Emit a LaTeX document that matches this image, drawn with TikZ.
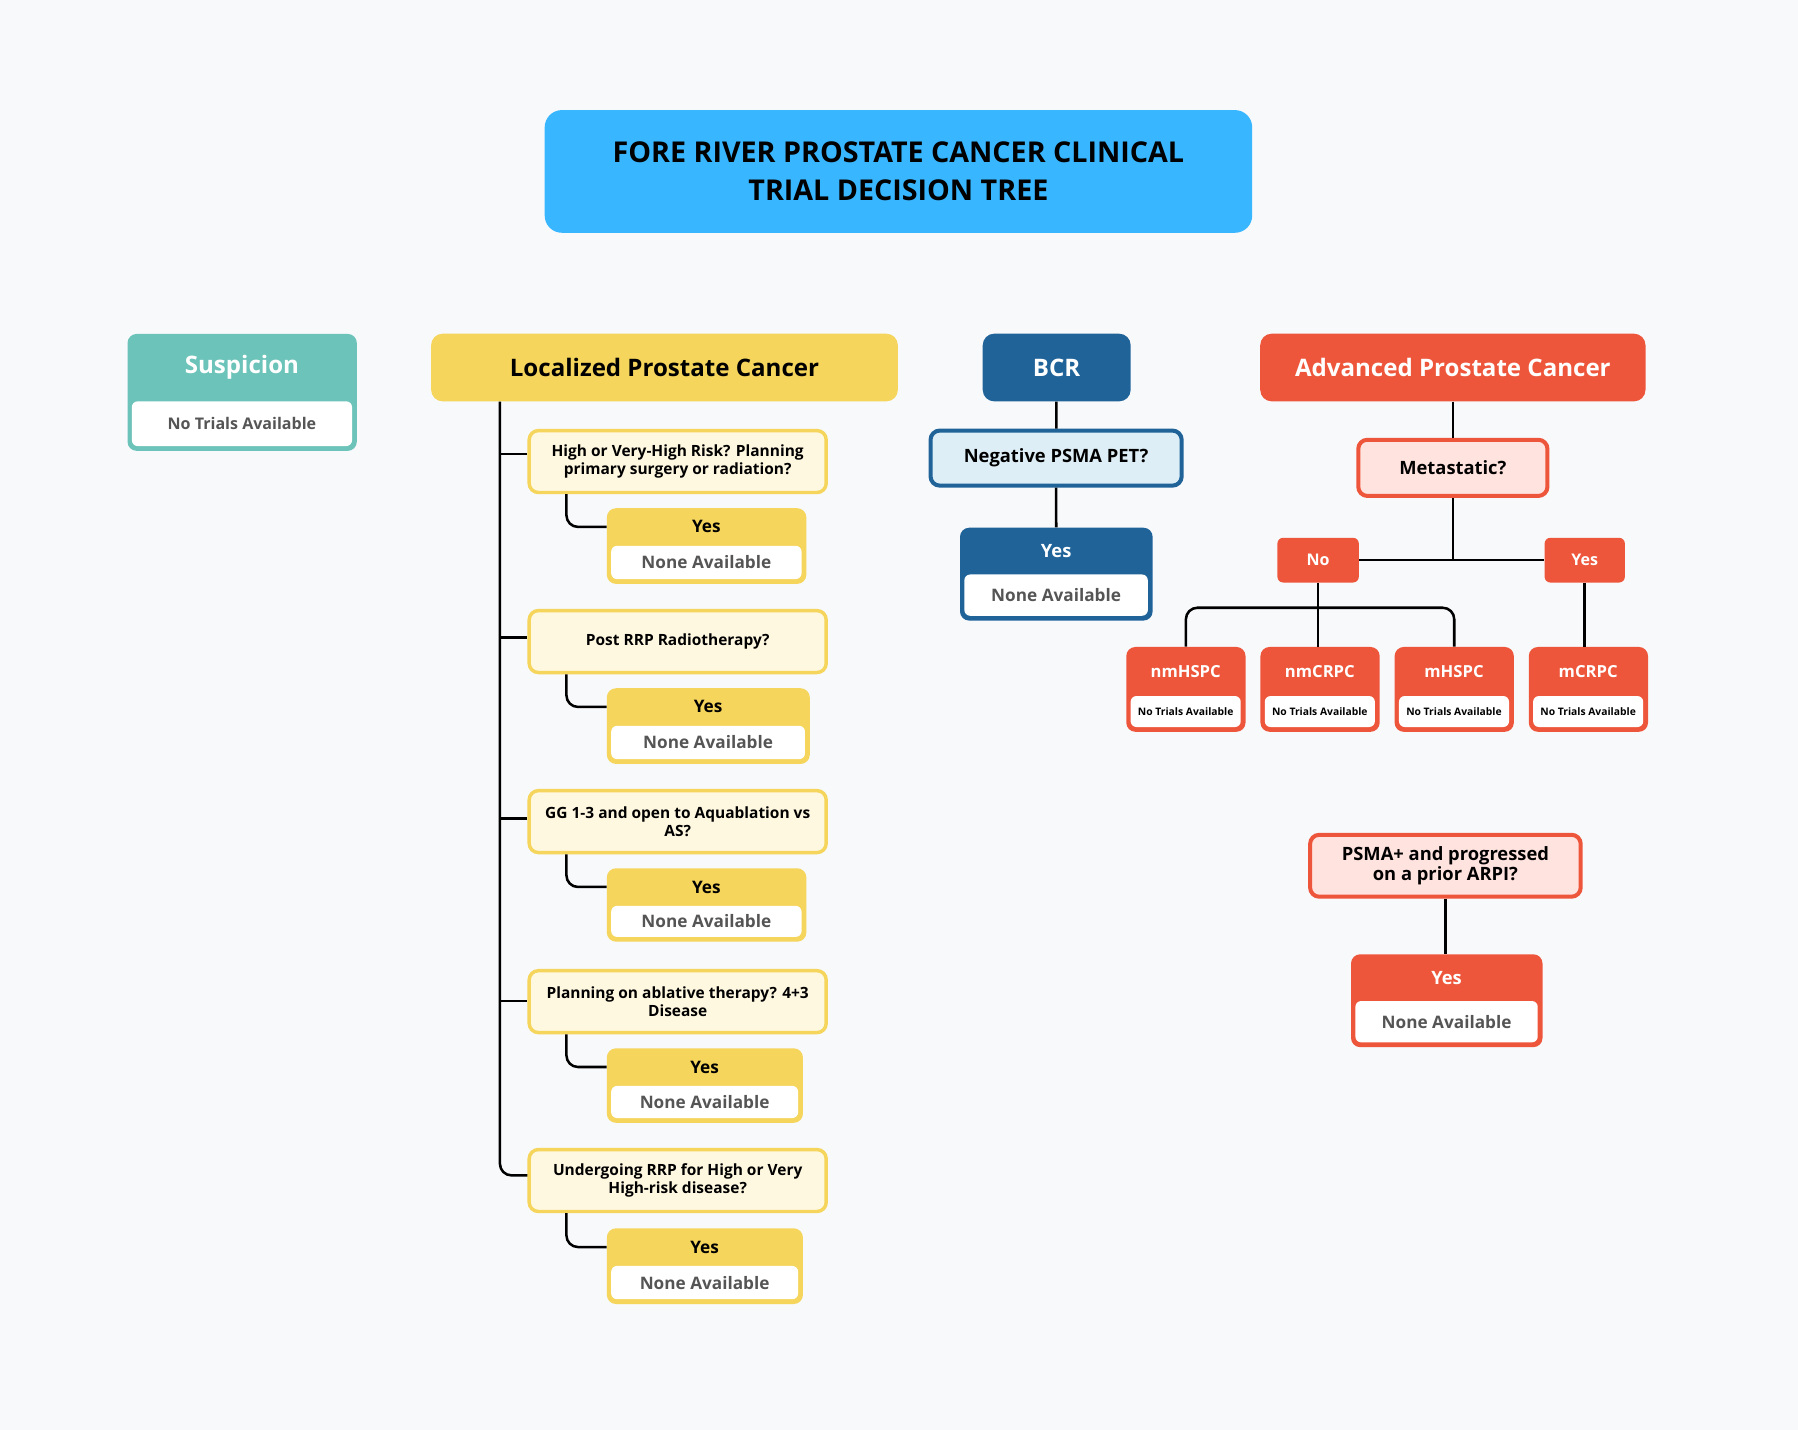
\documentclass[tikz,border=0pt]{standalone}
\usepackage{fontspec}
\setmainfont{Open Sans}
\begin{document}
\definecolor{bg}{HTML}{F8F9FB}
\definecolor{tblue}{HTML}{38B6FF}
\definecolor{teal}{HTML}{6CC3B9}
\definecolor{yel}{HTML}{F5D55B}
\definecolor{lyel}{HTML}{FFF8E1}
\definecolor{dblue}{HTML}{1F6399}
\definecolor{lblue}{HTML}{DDEEF6}
\definecolor{red}{HTML}{EE563B}
\definecolor{lred}{HTML}{FFE3DF}
\definecolor{gtext}{HTML}{555555}
\newcommand\cardtf{\fontsize{15}{18}\selectfont\bfseries}
\newcommand\cardtc{white}
\newcommand\cardbc{gtext}
\newcommand\cardbf{\fontsize{14}{17}\selectfont\bfseries}
\newcommand\card[9]{%
  \node[fill=#7, rounded corners=8, minimum width={#4-#2}, minimum height={#5-#3}, anchor=north west, inner sep=0] (#1) at (#2,#3) {};
  \fill[white, rounded corners=5] ({#2+4},{#6}) rectangle ({#4-4},{#5-4});
  \node[text=\cardtc, font=\cardtf, inner sep=0] (#1h) at ({(#2+#4)/2},{(#3+#6)/2}) {#8};
  \node[text=\cardbc, font=\cardbf, inner sep=0] (#1b) at ({(#2+#4)/2},{(#6+#5-4)/2}) {#9};}
\newcommand\qbox[7]{%
  \node[draw=#6, fill=#7, line width=3, rounded corners=8, minimum width={#4-#2-3}, minimum height={#5-#3-3}, inner sep=0] (#1) at ({(#2+#4)/2},{(#3+#5)/2}) {};}
\begin{tikzpicture}[x=1pt,y=-1pt, conn/.style={line width=2.2, rounded corners=10}]
\fill[bg] (0,0) rectangle (1568,1247);
\useasboundingbox (0,0) rectangle (1568,1247);
% title
\node[fill=tblue, rounded corners=15, minimum width=617, minimum height=107, align=center, font=\fontsize{25}{33}\selectfont\bfseries, text=black] (title) at (783.5,149.5) {FORE RIVER PROSTATE CANCER CLINICAL\\TRIAL DECISION TREE};
% Suspicion
\renewcommand\cardtf{\fontsize{21}{25}\selectfont\bfseries}
\card{susp}{111}{291}{311}{393}{350}{teal}{Suspicion}{No Trials Available}
% headers
\node[fill=yel, rounded corners=10, minimum width=407, minimum height=59, font=\fontsize{21}{25}\selectfont\bfseries] (loc) at (579.5,320.5) {Localized Prostate Cancer};
\node[fill=dblue, rounded corners=10, minimum width=129, minimum height=59, font=\fontsize{21}{25}\selectfont\bfseries, text=white] (bcr) at (921.5,320.5) {BCR};
\node[fill=red, rounded corners=10, minimum width=336, minimum height=59, font=\fontsize{21}{25}\selectfont\bfseries, text=white] (adv) at (1267,320.5) {Advanced Prostate Cancer};
% localized questions
\tikzset{qtext/.style={font=\fontsize{13.5}{16}\selectfont\bfseries, align=center}}
\qbox{q1}{460}{374}{722}{431}{yel}{lyel}
\qbox{q2}{460}{531}{722}{588}{yel}{lyel}
\qbox{q3}{460}{688}{722}{745}{yel}{lyel}
\qbox{q4}{460}{845}{722}{902}{yel}{lyel}
\qbox{q5}{460}{1001}{722}{1058}{yel}{lyel}
\node[qtext] at (q1) {High or Very-High Risk? Planning\\primary surgery or radiation?};
\node[qtext] at (q2) {Post RRP Radiotherapy?};
\node[qtext] at (q3) {GG 1-3 and open to Aquablation vs\\AS?};
\node[qtext] at (q4) {Planning on ablative therapy? 4+3\\Disease};
\node[qtext] at (q5) {Undergoing RRP for High or Very\\High-risk disease?};
\renewcommand\cardtf{\fontsize{15}{18}\selectfont\bfseries}
\renewcommand\cardtc{black}
\renewcommand\cardbf{\fontsize{15}{18}\selectfont\bfseries}
\card{y1}{529}{443}{703}{509}{476}{yel}{Yes}{None Available}
\card{y2}{529}{600}{706}{666}{633}{yel}{Yes}{None Available}
\card{y3}{529}{757}{703}{821}{790}{yel}{Yes}{None Available}
\card{y4}{529}{914}{700}{979}{947}{yel}{Yes}{None Available}
\card{y5}{529}{1071}{700}{1137}{1104}{yel}{Yes}{None Available}
\coordinate (tr) at (436,350);
\draw[conn] (loc.south -| tr) -- (436,1025) -- (q5.west |- 0,1025);
\foreach \q/\yy in {q1/396,q2/556,q3/714,q4/873}{\draw[line width=2.2] (436,\yy) -- (\q.west |- 0,\yy);}
\foreach \i in {1,...,5}{\draw[conn] (q\i.south -| 494,0) |- (y\i.west |- y\i h);}
% BCR
\node[draw=dblue, fill=lblue, line width=3.5, rounded corners=8, minimum width=219, minimum height=48, font=\fontsize{16}{19}\selectfont\bfseries] (neg) at (921,399.5) {Negative PSMA PET?};
\renewcommand\cardtf{\fontsize{16}{19}\selectfont\bfseries}
\renewcommand\cardtc{white}
\card{by}{837}{460}{1005}{541}{501}{dblue}{Yes}{None Available}
\draw[line width=2.2] (bcr) -- (neg);
\draw[line width=2.2] (neg) -- (by);
% Advanced
\node[draw=red, fill=lred, line width=3.5, rounded corners=8, minimum width=165, minimum height=49, font=\fontsize{16}{19}\selectfont\bfseries] (met) at (1267,408) {Metastatic?};
\node[fill=red, rounded corners=5, minimum width=71, minimum height=39, text=white, font=\fontsize{14}{17}\selectfont\bfseries] (no) at (1149.5,488.5) {No};
\node[fill=red, rounded corners=5, minimum width=70, minimum height=39, text=white, font=\fontsize{14}{17}\selectfont\bfseries] (yes) at (1382,488.5) {Yes};
\draw[line width=2.2] (adv) -- (met);
\draw[line width=2.2] (met) -- (met |- no) coordinate (mj);
\draw[line width=2.2] (no) -- (yes);
\renewcommand\cardtf{\fontsize{14.5}{17}\selectfont\bfseries}
\renewcommand\cardbf{\fontsize{9}{11}\selectfont\bfseries}
\renewcommand\cardbc{black}
\card{c1}{982}{564}{1086}{638}{607}{red}{nmHSPC}{No Trials Available}
\card{c2}{1099}{564}{1203}{638}{607}{red}{nmCRPC}{No Trials Available}
\card{c3}{1216}{564}{1320}{638}{607}{red}{mHSPC}{No Trials Available}
\card{c4}{1333}{564}{1437}{638}{607}{red}{mCRPC}{No Trials Available}
\draw[line width=2.2] (no) -- (no |- c2.north);
\draw[conn] (c1.north) -- (c1.north |- 0,530) -- (c3.north |- 0,530) -- (c3.north);
\draw[line width=2.2] (yes) -- (yes |- c4.north);
\node[draw=red, fill=lred, line width=3.5, rounded corners=8, minimum width=236, minimum height=54, align=center, font=\fontsize{16}{18}\selectfont\bfseries] (psma) at (1260.5,755) {PSMA+ and progressed\\on a prior ARPI?};
\renewcommand\cardtf{\fontsize{16}{19}\selectfont\bfseries}
\renewcommand\cardbf{\fontsize{15}{18}\selectfont\bfseries}
\renewcommand\cardbc{gtext}
\card{py}{1178}{832}{1345}{913}{873}{red}{Yes}{None Available}
\draw[line width=2.2] (psma) -- (psma |- py.north);
\end{tikzpicture}
\end{document}
